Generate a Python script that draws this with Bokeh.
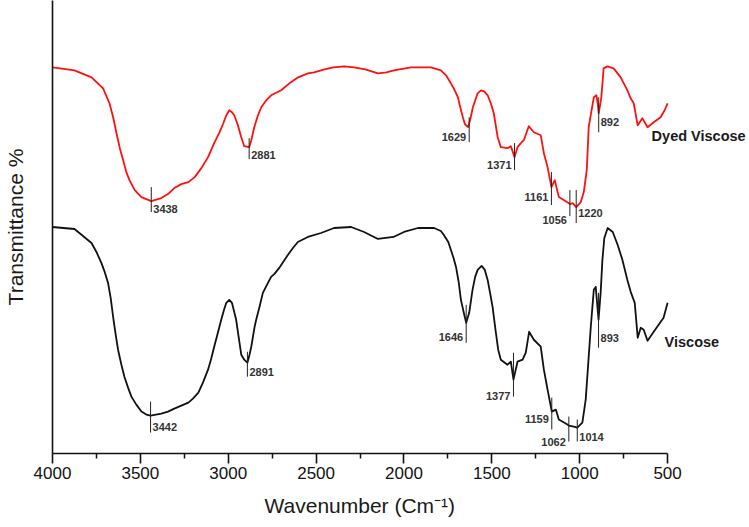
from bokeh.plotting import figure
from bokeh.models import Range1d, FixedTicker, ColumnDataSource, Title
from bokeh.core.properties import value
from bokeh.embed import file_html
from bokeh.resources import INLINE

# FTIR spectra: wavenumber (cm-1) and relative transmittance (arbitrary units)
dyed_wn = [4000, 3875, 3778, 3712, 3676, 3655, 3636, 3617, 3598, 3580,
           3562, 3532, 3494, 3438, 3381, 3343, 3307, 3267, 3227, 3191,
           3153, 3115, 3080, 3049, 3028, 3011, 2994, 2979, 2966, 2945,
           2926, 2909, 2881, 2869, 2852, 2831, 2812, 2784, 2756, 2699,
           2652, 2602, 2547, 2511, 2453, 2403, 2340, 2284, 2220, 2148,
           2100, 2057, 1960, 1847, 1790, 1761, 1733, 1714, 1693, 1680,
           1665, 1653, 1635, 1620, 1608, 1581, 1562, 1544, 1524, 1506,
           1489, 1467, 1449, 1411, 1392, 1371, 1354, 1335, 1318, 1290,
           1261, 1222, 1204, 1183, 1161, 1142, 1119, 1091, 1056, 1040,
           1020, 994, 977, 960, 949, 920, 905, 898, 892, 877,
           864, 843, 807, 767, 729, 710, 693, 670, 644, 614,
           579, 540, 517, 500]
dyed_t = [387, 384, 377, 366, 351, 337, 321, 306, 294, 282,
          274, 264, 257, 253, 256, 260, 266, 270, 272, 277,
          286, 297, 311, 322, 331, 339, 344, 342, 339, 329,
          317, 308, 307, 314, 327, 339, 347, 354, 359, 364,
          371, 377, 381, 382, 385, 387, 388, 387, 385, 381,
          382, 384, 387, 387, 384, 379, 371, 365, 357, 347,
          337, 330, 327, 337, 347, 361, 364, 363, 359, 351,
          341, 317, 307, 306, 308, 297, 307, 311, 314, 328,
          322, 319, 301, 287, 267, 274, 257, 254, 250, 251,
          247, 252, 262, 284, 327, 357, 359, 351, 341, 357,
          386, 388, 386, 377, 364, 356, 351, 329, 336, 327,
          332, 337, 344, 351]

visc_wn = [4000, 3875, 3778, 3750, 3722, 3703, 3684, 3669, 3655, 3642,
           3627, 3608, 3591, 3570, 3551, 3523, 3494, 3466, 3442, 3381,
           3343, 3307, 3267, 3227, 3201, 3170, 3144, 3115, 3097, 3080,
           3059, 3040, 3024, 3011, 2994, 2979, 2955, 2936, 2926, 2909,
           2891, 2879, 2869, 2850, 2841, 2822, 2803, 2774, 2756, 2737,
           2710, 2661, 2632, 2604, 2547, 2472, 2398, 2301, 2227, 2148,
           2060, 2000, 1920, 1829, 1790, 1773, 1748, 1733, 1718, 1704,
           1689, 1676, 1657, 1646, 1629, 1610, 1595, 1581, 1558, 1540,
           1524, 1506, 1496, 1477, 1464, 1449, 1411, 1392, 1377, 1354,
           1325, 1307, 1288, 1261, 1222, 1204, 1183, 1159, 1136, 1119,
           1070, 1062, 1034, 1014, 985, 966, 954, 937, 920, 909,
           893, 881, 871, 860, 841, 812, 784, 757, 729, 710,
           687, 670, 653, 636, 614, 579, 551, 523, 500]
visc_t = [227, 225, 211, 202, 191, 182, 171, 156, 137, 121,
          104, 89, 77, 66, 57, 49, 42, 39, 38, 40,
          42, 45, 48, 51, 55, 61, 71, 84, 95, 107,
          121, 134, 144, 151, 154, 151, 134, 111, 99, 94,
          91, 99, 107, 127, 134, 147, 161, 171, 177, 180,
          186, 199, 206, 212, 217, 221, 226, 227, 222, 215,
          217, 222, 226, 226, 223, 219, 212, 204, 196, 187,
          172, 154, 139, 131, 141, 164, 177, 184, 188, 184,
          174, 157, 147, 121, 104, 94, 89, 92, 74, 92,
          94, 101, 122, 114, 107, 84, 64, 42, 44, 34,
          29, 28, 27, 26, 31, 54, 84, 127, 164, 167,
          134, 161, 194, 216, 226, 222, 209, 194, 174, 162,
          151, 116, 126, 124, 113, 122, 129, 136, 151]

# Peak markers: position, printed label, marker top/bottom, label height, label side
dyed_peak_wn = [3438, 2881, 1629, 1371, 1161, 1056, 1020, 892]
dyed_peak_text = ["3438", "2881", "1629", "1371", "1161", "1056", "1220", "892"]
dyed_peak_top = [267, 316, 337, 311, 282, 264, 264, 357]
dyed_peak_bottom = [242, 295, 312, 284, 249, 238, 231, 322]
dyed_peak_label_y = [245, 299, 317, 289, 257, 234, 241, 332]
dyed_peak_side = ["right", "right", "left", "left", "left", "left", "right", "right"]

visc_peak_wn = [3442, 2891, 1646, 1377, 1159, 1062, 1014, 893]
visc_peak_text = ["3442", "2891", "1646", "1377", "1159", "1062", "1014", "893"]
visc_peak_top = [52, 102, 149, 101, 56, 37, 34, 161]
visc_peak_bottom = [21, 77, 111, 57, 24, 12, 12, 106]
visc_peak_label_y = [27, 82, 117, 58, 35, 12, 17, 116]
visc_peak_side = ["right", "right", "left", "left", "left", "left", "right", "right"]

x_major = [500, 1000, 1500, 2000, 2500, 3000, 3500, 4000]
x_minor = [750, 1250, 1750, 2250, 2750, 3250, 3750]

FONT = "Liberation Sans"

p = figure(width=749, height=527, output_backend="svg", toolbar_location=None,
           x_range=Range1d(4000, 34), y_range=Range1d(0, 454),
           min_border_left=51, min_border_right=0, min_border_top=0,
           min_border_bottom=73)
p.outline_line_color = None
p.grid.visible = False
p.background_fill_color = "white"
p.border_fill_color = "white"

xa = p.xaxis[0]
xa.ticker = FixedTicker(ticks=x_major, minor_ticks=x_minor)
xa.bounds = (500, 4000)
xa.axis_line_color = "#111111"
xa.axis_line_width = 1.6
xa.major_tick_line_color = "#111111"
xa.major_tick_line_width = 1.6
xa.major_tick_out = 10
xa.major_tick_in = 0
xa.minor_tick_line_color = "#111111"
xa.minor_tick_line_width = 1.5
xa.minor_tick_out = 5
xa.minor_tick_in = 0
xa.major_label_text_font = FONT
xa.major_label_text_font_size = "17px"
xa.major_label_text_color = "#111111"
xa.major_label_standoff = 3

ya = p.yaxis[0]
ya.ticker = FixedTicker(ticks=[])
ya.axis_line_color = "#111111"
ya.axis_line_width = 1.6
ya.major_tick_line_color = None
ya.minor_tick_line_color = None
ya.major_tick_out = 0
ya.major_label_standoff = 0
ya.axis_label = "Transmittance %"
ya.axis_label_text_font = FONT
ya.axis_label_text_font_size = "21px"
ya.axis_label_text_font_style = "normal"
ya.axis_label_text_color = "#1a1a1a"
ya.axis_label_standoff = 26

# spectra
p.line(dyed_wn, dyed_t, line_color="#ff1010", line_width=1.8, line_join="round")
p.line(visc_wn, visc_t, line_color="#111111", line_width=1.8, line_join="round")


def peak_marks(wn, text, top, bottom, label_y, side):
    p.segment(x0=wn, x1=wn, y0=top, y1=bottom, line_color="#222222", line_width=1)
    for s, align, off in (("right", "left", 2), ("left", "right", -3)):
        idx = [i for i, v in enumerate(side) if v == s]
        src = ColumnDataSource(dict(x=[wn[i] for i in idx],
                                    y=[label_y[i] for i in idx],
                                    t=[text[i] for i in idx]))
        p.text(x="x", y="y", text="t", source=src, text_align=align,
               text_baseline="middle", x_offset=off,
               text_font=value(FONT), text_font_style="bold",
               text_font_size="11px", text_color="#333333")


peak_marks(dyed_peak_wn, dyed_peak_text, dyed_peak_top, dyed_peak_bottom,
           dyed_peak_label_y, dyed_peak_side)
peak_marks(visc_peak_wn, visc_peak_text, visc_peak_top, visc_peak_bottom,
           visc_peak_label_y, visc_peak_side)

# series names
p.text(x=[591, 517], y=[318, 112], text=["Dyed Viscose", "Viscose"],
       text_align="left", text_baseline="middle", text_font=value(FONT),
       text_font_style="bold", text_font_size="14.5px", text_color="#1a1a1a")

# x-axis title, sitting under the middle of the 500-4000 span of the axis
p.add_layout(Title(text="Wavenumber (Cm\u207b\u00b9)", align="left", offset=212,
                   standoff=21, text_font=FONT, text_font_size="21px",
                   text_font_style="normal", text_color="#1a1a1a"), "below")

open("out.html", "w").write(file_html(p, INLINE))
